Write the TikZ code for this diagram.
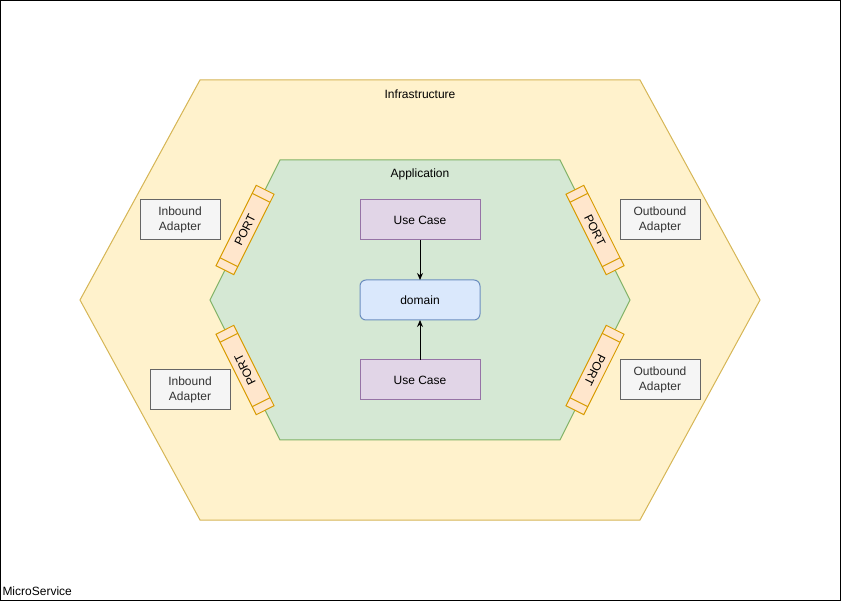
\documentclass[tikz,border=0pt]{standalone}
\usepackage{fontspec}
\setmainfont{Liberation Sans}
\usetikzlibrary{arrows.meta,calc}
\definecolor{infraFill}{HTML}{FFF2CC}
\definecolor{infraLine}{HTML}{D6B656}
\definecolor{appFill}{HTML}{D5E8D4}
\definecolor{appLine}{HTML}{82B366}
\definecolor{ucFill}{HTML}{E1D5E7}
\definecolor{ucLine}{HTML}{9673A6}
\definecolor{domFill}{HTML}{DAE8FC}
\definecolor{domLine}{HTML}{6C8EBF}
\definecolor{adFill}{HTML}{F5F5F5}
\definecolor{adLine}{HTML}{666666}
\definecolor{adText}{HTML}{333333}
\definecolor{portFill}{HTML}{FFE6CC}
\definecolor{portLine}{HTML}{D79B00}
\begin{document}
\begin{tikzpicture}[x=1pt,y=-1pt,line width=1pt,
  txt/.style={font=\fontsize{12pt}{15pt}\selectfont},
  ubox/.style={txt,draw=ucLine,fill=ucFill,minimum width=120pt,minimum height=40pt,inner sep=0pt,outer sep=0pt},
  dbox/.style={txt,draw=domLine,fill=domFill,rounded corners=6pt,minimum width=120pt,minimum height=40pt,inner sep=0pt,outer sep=0pt},
  abox/.style={txt,draw=adLine,fill=adFill,text=adText,align=center,minimum width=80pt,minimum height=40pt,inner sep=0pt,outer sep=0pt},
  portbox/.style={txt,draw=portLine,fill=portFill,minimum width=90pt,minimum height=20pt,inner sep=0pt,outer sep=0pt},
  portline/.style={draw=portLine},
  arr/.style={-{Stealth[length=7pt,width=6pt]},black}
]
\useasboundingbox (0,0) rectangle (841,601);
\draw[black] (0.5,0.5) rectangle (840.5,600.5);
% infrastructure hexagon
\draw[draw=infraLine,fill=infraFill] (200,80) -- (640,80) -- (760,300) -- (640,520) -- (200,520) -- (80,300) -- cycle;
% application hexagon
\draw[draw=appLine,fill=appFill] (280,160) -- (560,160) -- (630,300) -- (560,440) -- (280,440) -- (210,300) -- cycle;
\node[txt] (infra) at (420,94) {Infrastructure};
\node[txt] (app) at (420,174) {Application};
\node[txt,anchor=west,inner sep=0pt] (ms) at (2,591) {MicroService};
% core
\node[ubox] (uc1) at (420,220) {Use Case};
\node[dbox] (dom) at (420,300) {domain};
\node[ubox] (uc2) at (420,380) {Use Case};
\draw[arr] (uc1.south) -- (dom.north);
\draw[arr] (uc2.north) -- (dom.south);
% adapters
\node[abox] (in1) at (180,220) {Inbound\\Adapter};
\node[abox] (in2) at (190,390) {Inbound\\Adapter};
\node[abox] (out1) at (660,220) {Outbound\\Adapter};
\node[abox] (out2) at (660,380) {Outbound\\Adapter};
% ports
\node[portbox,rotate=63.43] (p1) at (245,230) {PORT};
\node[portbox,rotate=116.57] (p2) at (245,370) {PORT};
\node[portbox,rotate=-63.43] (p3) at (595,230) {PORT};
\node[portbox,rotate=-116.57] (p4) at (595,370) {PORT};
\foreach \p in {p1,p2,p3,p4}{
  \draw[portline] ($(\p.north west)!0.1!(\p.north east)$) -- ($(\p.south west)!0.1!(\p.south east)$);
  \draw[portline] ($(\p.north west)!0.9!(\p.north east)$) -- ($(\p.south west)!0.9!(\p.south east)$);
}
\end{tikzpicture}
\end{document}
